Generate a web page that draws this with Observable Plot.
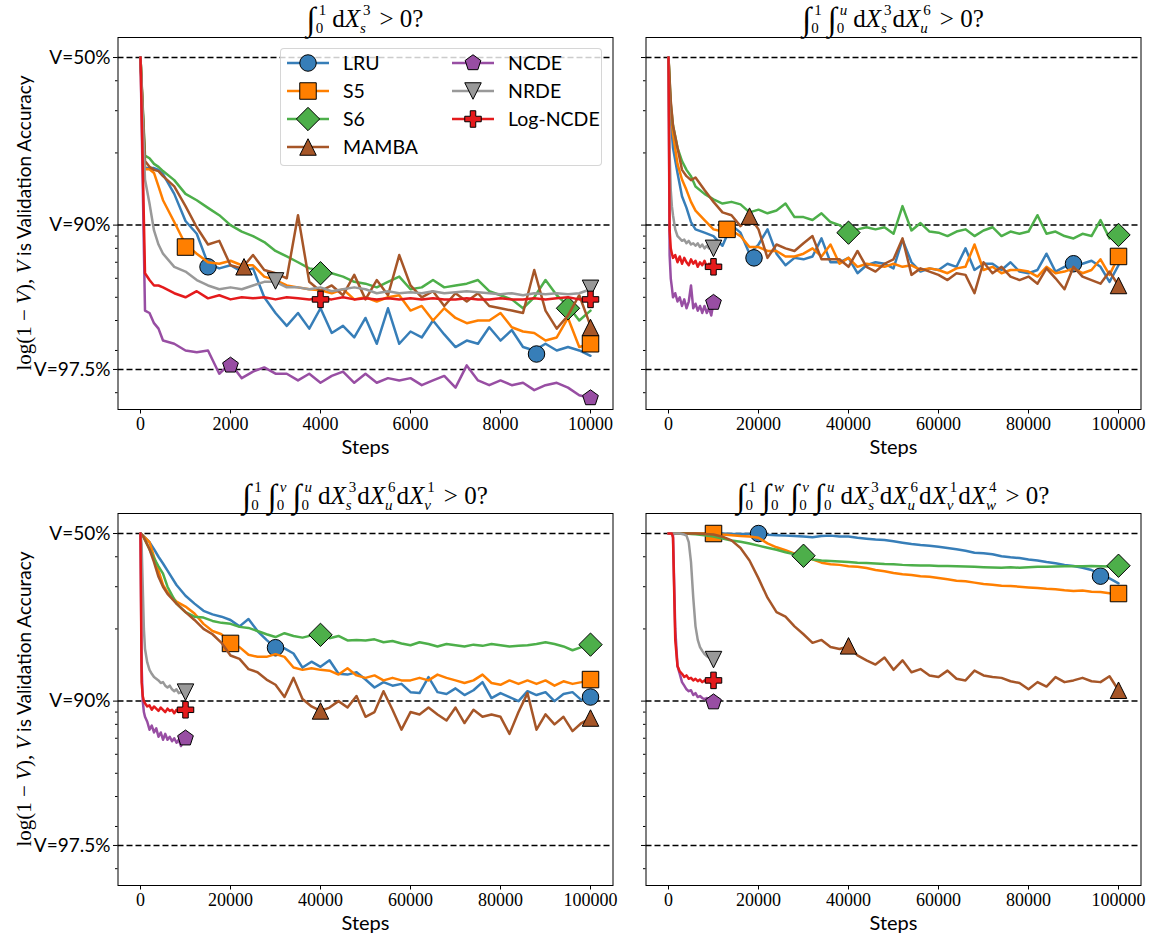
<!DOCTYPE html>
<html><head><meta charset="utf-8">
<script src="https://cdn.jsdelivr.net/npm/d3@7"></script>
<script src="https://cdn.jsdelivr.net/npm/@observablehq/plot@0.6"></script>
<style>
html,body{margin:0;padding:0;background:#fff;}
#fig{position:relative;width:1157px;height:938px;overflow:hidden;background:#fff;}
.panel{position:absolute;}
.title{position:absolute;transform:translate(-50%,-50%);white-space:nowrap;font-family:"Liberation Serif",serif;font-size:25px;display:flex;align-items:center;color:#000;}
.title i{font-style:italic;}
.int{font-family:"Liberation Serif","DejaVu Serif",serif;font-size:33px;line-height:36px;}
.lim{display:inline-flex;flex-direction:column;font-size:15px;line-height:18px;margin-right:6px;}
.lim.dx{margin-right:1px;}
.lim span{display:block;}
.lim span:first-child{margin-left:3px;}
.ylab{position:absolute;transform:translate(-50%,-50%) rotate(-90deg);white-space:nowrap;font-family:Lato,sans-serif;font-size:19px;color:#000;}
.ylab .m{font-family:"Liberation Serif",serif;font-size:21px;}
.legbox{position:absolute;left:280px;top:48px;width:322px;height:118px;box-sizing:border-box;border:1px solid rgba(204,204,204,0.8);border-radius:4px;background:rgba(255,255,255,0.8);}
.legsvg{position:absolute;}
.leglab{position:absolute;transform:translateY(-50%);font-family:Lato,sans-serif;font-size:19.5px;line-height:1;color:#000;white-space:nowrap;}
</style></head>
<body><div id="fig"></div>
<script>
// ---------- categories / styling lists ----------
const SERIES = ["LRU","S5","S6","MAMBA","NCDE","NRDE","Log-NCDE"];
const COLORS = ["#377eb8","#ff7f00","#4daf4a","#a65628","#984ea3","#999999","#e41a1c"];
const SYMBOL_KINDS = ["circle","square","diamond","triUp","pentagon","triDown","plus"];

// ---------- axis ticks ----------
const Y_TICKS = [50, 10, 2.5];               // 1 - V, in percent
const Y_TICK_LABELS = ["V=50%","V=90%","V=97.5%"];
const Y_MINOR = [2,3,4,5,6,7,8,9,20,30,40];
const Y_DOMAIN = [1.702, 60.6];
const X_TICKS_A = [0,2000,4000,6000,8000,10000];
const X_TICKS_B = [0,20000,40000,60000,80000,100000];

// ---------- steps ----------
const STEPS_TL = [0,100,200,300,400,500,750,1000,1250,1500,1750,2000,2250,2500,2750,3000,3250,3500,3750,4000,
  4250,4500,4750,5000,5250,5500,5750,6000,6250,6500,6750,7000,7250,7500,7750,8000,8250,8500,8750,9000,9250,9500,9750,10000];
const STEPS_LONG = [0,500,1000,2000,3000,4000,5000,6000,8000,10000,12000,14000,16000,18000,20000,22000,24000,26000,28000,30000,
  32000,34000,36000,38000,40000,42000,44000,46000,48000,50000,52000,54000,56000,58000,60000,62000,64000,66000,68000,70000,
  72000,74000,76000,78000,80000,82000,84000,86000,88000,90000,92000,94000,96000,98000,100000];
const STEPS_SHORT = [0,250,500,750,1000,1500,2000,2500,3000,3500,4000,4500,5000,5500,6000,6500,7000,7500,8000,8500,9000,9500,10000];

// ---------- panel 1: depth-1 signature (1 - V in %) ----------
const tlLRU = [50,17.3,17.3,17.3,17.0,16.3,13.5,10.4,9.2,6.9, 6.6,6.8,6.4,6.6,5.0,4.3,3.8,4.3,3.7,4.5,
  3.55,3.8,3.4,4.1,3.2,4.5,3.2,3.6,3.4,4.0, 3.5,3.1,3.3,3.2,3.75,3.3,3.65,3.1,3.0,3.2, 3.0,3.1,3.0,2.85];
const tlS5 = [50,17.1,17.1,16.5,14.5,12.7,10.3,8.3,7.6,7.0, 6.9,7.1,6.8,6.8,6.1,5.9,5.6,5.5,5.4,5.35,
  5.2,5.4,4.9,5.0,4.8,5.0,5.1,4.4,4.6,4.0, 4.5,4.1,3.9,4.0,4.0,4.3,3.75,3.6,3.55,3.3, 3.4,4.1,3.1,3.2];
const tlS6 = [50,19.5,19.0,18.0,17.5,16.8,15.4,13.5,12.7,11.8, 11.0,10.0,9.4,9.0,8.5,7.8,7.4,7.0,6.6,6.5,
  6.3,6.1,5.8,5.7,5.5,5.8,6.1,5.4,5.5,5.9, 5.5,5.6,5.7,5.9,5.3,5.1,4.9,4.5,5.0,5.9, 5.1,4.6,4.0,4.4];
const tlMAMBA = [50,18.5,17.5,17.0,16.8,16.0,14.5,12.0,9.8,8.3, 8.6,6.8,6.6,7.5,6.5,6.3,6.0,11.0,5.8,5.3,
  5.6,5.1,6.2,4.9,5.9,5.1,7.5,5.6,5.0,5.3, 4.6,5.2,4.8,5.2,4.6,4.5,4.4,4.3,6.5,4.4, 3.7,4.2,5.1,3.8];
const tlNCDE = [50,4.4,4.3,3.9,3.7,3.3,3.2,3.0,2.95,3.0, 2.4,2.65,2.3,2.45,2.55,2.4,2.4,2.25,2.4,2.2,
  2.35,2.45,2.2,2.4,2.2,2.3,2.25,2.3,2.15,2.25, 2.35,2.1,2.6,2.25,2.15,2.25,2.15,2.2,2.05,2.15, 2.2,2.1,1.95,1.9];
const tlNRDE = [50,15.5,12.3,9.5,8.3,7.6,6.7,6.4,5.9,5.6, 5.4,5.5,5.4,5.6,5.8,5.8,5.5,5.5,5.4,5.5,
  5.3,5.4,5.5,5.4,5.2,5.3,5.2,5.25,5.2,5.3, 5.2,5.25,5.3,5.25,5.2,5.15,5.2,5.1,5.2,5.15, 5.2,5.15,5.2,5.4];
const tlLogNCDE = [50,6.3,5.9,5.6,5.6,5.5,5.2,5.0,5.3,4.95, 5.1,4.9,5.0,4.95,5.0,4.9,5.0,4.95,4.9,4.95,
  4.9,5.0,4.9,4.95,4.9,4.95,4.9,4.95,4.9,4.95, 4.9,4.9,4.95,4.9,4.9,4.95,4.9,4.9,4.95,4.9, 4.95,5.0,4.9,4.95];
const tlMarkers = [["LRU",1500,6.7],["LRU",8800,2.9],["S5",1000,8.1],["S5",10000,3.2],["S6",4000,6.3],["S6",9500,4.5],
  ["MAMBA",2300,6.7],["MAMBA",10000,3.74],["NCDE",2000,2.6],["NCDE",10000,1.9],["NRDE",3000,5.85],["NRDE",10000,5.45],
  ["Log-NCDE",4000,4.9],["Log-NCDE",10000,4.9]];

// ---------- panel 2: depth-2 ----------
const trLRU = [50,28,21,16.5,13.2,11.8,10.3,9.6,9.3,9.0, 8.2,10.0,9.3,7.6,8.3,9.6,7.6,6.8,7.3,7.2,
  7.4,8.8,7.0,7.0,7.3,6.3,6.8,7.0,6.9,6.6, 8.7,7.0,6.4,6.6,6.5,6.9,6.7,8.0,6.5,6.9,
  6.9,6.5,7.0,6.4,6.3,6.5,7.6,6.4,6.7,6.8, 6.9,7.1,6.7,5.8,6.8];
const trS5 = [50,30,24,18,15.5,14.0,12.5,11.5,10.5,9.6, 9.4,9.5,9.0,8.1,8.1,7.8,7.8,7.4,7.4,7.6,
  8.0,7.4,8.3,6.9,7.3,6.7,6.9,6.8,6.7,6.9, 6.7,6.8,6.5,6.6,6.5,6.3,6.6,6.7,8.3,6.5,
  6.7,6.3,6.5,6.5,6.4,6.1,6.7,6.3,6.4,6.6, 6.3,6.5,7.2,6.2,7.4];
const trS6 = [50,32,26,21,18.5,17.0,16.0,14.5,13.5,12.8, 12.3,12.5,12.2,11.3,11.6,11.2,11.5,12.3,10.8,10.8,
  10.5,11.2,10.3,10.0,9.4,9.6,9.8,9.6,9.8,9.2, 12.0,9.5,10.2,9.4,9.3,9.0,9.4,9.6,9.0,9.5,
  9.8,9.0,9.4,9.2,9.4,11.0,9.2,9.4,9.0,8.8, 9.2,9.0,10.5,8.8,9.1];
const trMAMBA = [50,33,26,21,17.0,16.0,15.4,15.8,14.0,12.5, 11.3,11.0,9.9,10.9,9.6,7.3,8.3,8.0,7.8,8.4,
  9.0,7.2,7.2,7.2,6.7,7.8,6.7,6.4,6.9,7.2, 8.8,6.2,6.6,6.4,6.2,5.9,6.3,6.2,5.2,7.0,
  6.3,6.7,6.1,5.9,6.1,5.7,6.6,6.0,5.4,6.7, 6.1,5.9,5.7,6.4,5.6];
const trNCDE = [50,7.5,6.0,5.5,5.0,5.2,4.8,5.0,4.6,4.9,4.5,4.8,5.6,4.5,4.7,4.4,4.6,4.3,4.6,4.3,4.5,4.2,4.75];
const trNRDE = [50,20,14,12,11,9.6,9.0,8.8,8.6,8.7,8.4,8.6,8.3,8.4,8.2,8.4,8.1,8.3,8.0,8.2,8.0,8.1,8.0];
const trLogNCDE = [50,9.5,8.0,7.6,7.3,7.5,7.0,7.4,6.9,7.3,7.0,6.8,7.2,6.9,7.1,6.7,7.0,6.8,7.1,6.7,6.9,6.7,6.7];
const trMarkers = [["LRU",19000,7.3],["LRU",90000,6.9],["S5",13000,9.6],["S5",100000,7.4],["S6",40000,9.3],["S6",100000,9.1],
  ["MAMBA",18000,10.9],["MAMBA",100000,5.6],["NCDE",10000,4.75],["NRDE",10000,8.0],["Log-NCDE",10000,6.7]];

// ---------- panel 3: depth-3 ----------
const blLRU = [50,49,48,46,43,40,37.5,35,30.5,27.5, 25.5,23.8,23.0,22.5,21.8,20.5,22.0,19.6,18.0,16.7,
  16.6,15.8,13.8,14.6,13.9,14.8,13.0,12.9,13.2,12.3, 11.4,12.0,11.6,11.8,10.9,10.8,12.6,10.9,10.7,11.3,
  10.6,11.1,12.0,10.3,10.8,10.4,10.0,11.0,10.6,10.9, 10.0,10.7,10.9,10.1,10.4];
const blS5 = [50,49,48,46,40,35,30.5,28.5,26,24.8, 23.2,21,19.6,19,17.4,16.8,15.6,15.3,15.3,15.7,
  15.3,13.8,13.5,13.7,13.5,13.4,12.9,13.7,12.8,12.5, 12.8,12.2,12.5,12.2,12.2,12.5,12.2,12.9,12.5,12.2,
  11.9,12.2,12.9,11.9,11.7,12.2,11.8,12.2,11.8,12.2, 11.6,12.1,11.8,12.0,12.3];
const blS6 = [50,49,47,43,39.5,36.5,34,30,25.5,23.5, 22.5,22.3,21.6,21.2,21.0,20.4,20.2,19.6,19.0,18.5,
  19.2,18.7,18.4,18.8,18.9,18.3,18.7,17.9,18.0,17.9, 18.1,17.6,17.8,17.4,17.1,17.6,17.3,16.9,17.3,17.1,
  16.9,17.2,17.0,17.3,17.1,16.9,17.0,17.1,17.3,17.6, 17.3,16.9,16.3,16.8,17.2];
const blMAMBA = [50,49,47,43,38,33,30,28,25.5,23.5, 21.8,20,19,17.5,15.5,15.0,13.6,13.2,12.3,11.7,
  10.4,12.5,10.2,9.5,9.1,9.4,10.0,9.4,10.5,8.6, 9.0,11.0,9.2,7.6,9.0,8.8,9.4,8.8,8.3,9.4,
  8.1,9.2,8.6,8.8,8.6,7.3,9.0,10.8,7.6,8.8, 8.0,8.6,7.5,8.1,8.5];
const blNCDE = [50,14,10.0,9.0,8.6,8.2,7.6,7.9,7.4,7.7,7.1,7.4,6.9,7.3,6.9,7.1,6.8,7.0,6.7,6.9,6.5,6.8,6.9];
const blNRDE = [50,45,30,20,16.5,14.5,13.5,13.0,12.6,12.4,12.2,11.9,12.0,11.6,11.4,11.6,11.2,11.0,11.2,10.8,10.9,10.7,10.9];
const blLogNCDE = [50,12,10.5,10.0,9.8,9.5,9.6,9.2,9.5,9.3,9.1,9.4,9.2,9.0,9.3,9.1,9.2,8.9,9.2,9.0,9.1,9.0,9.2];
const blMarkers = [["LRU",30000,16.7],["LRU",100000,10.4],["S5",20000,17.4],["S5",100000,12.3],["S6",40000,18.9],["S6",100000,17.2],
  ["MAMBA",40000,9.1],["MAMBA",100000,8.5],["NCDE",10000,7.0],["NRDE",10000,10.9],["Log-NCDE",10000,9.2]];

// ---------- panel 4: depth-4 ----------
const brLRU = [50,50,50,50,50,50,50,50,50,50, 50,49.8,49.8,49.8,49.8,49.4,49.2,49.0,48.8,48.6,
  48.2,48.8,49.0,48.6,48.6,48.0,47.6,47.2,47.0,46.4, 45.8,45.2,44.8,44.5,44.0,43.5,43.0,42.4,41.6,41.4,
  41.0,40.2,39.8,39.5,39.0,38.6,38.0,37.6,37.0,36.6, 36.0,35.2,34.0,32.5,31.0];
const brS5 = [50,50,50,50,50,50,50,50,50,50, 49.5,49.2,48.8,48.6,48.0,45.5,43.8,42.6,41.2,40.0,
  39.0,37.8,37.2,37.0,36.5,36.3,35.9,35.2,34.8,34.2, 33.8,33.6,33.2,33.0,32.6,32.2,31.8,31.6,31.2,30.8,
  30.6,30.3,30.2,30.0,29.8,29.6,29.4,29.3,29.0,28.8, 28.9,28.6,28.5,28.2,28.0];
const brS6 = [50,50,50,50,50,50,49.8,49.6,49.2,48.6, 47.6,46.8,46.2,45.4,44.5,43.6,42.8,41.8,41.0,40.2,
  39.0,38.6,38.4,38.2,38.0,37.8,37.7,37.5,37.3,37.2, 37.0,36.9,36.8,36.8,36.6,36.6,36.5,36.4,36.3,36.2,
  36.1,36.0,36.2,36.0,36.2,36.3,36.3,36.4,36.5,36.5, 36.5,36.6,36.5,36.4,36.7];
const brMAMBA = [50,50,50,50,50,50,50,50,49.8,49.5, 48.5,46.8,43.5,38.6,32.5,27.0,23.5,22.5,20.5,19.0,
  17.5,18.0,16.8,16.5,16.9,15.5,14.8,14.2,15.2,13.5, 14.8,13.2,13.6,12.8,12.6,13.4,12.4,12.2,13.4,12.8,
  12.6,12.5,12.1,11.9,11.2,12.0,11.5,12.6,12.0,12.2, 12.5,12.1,12.0,12.7,11.1];
const brNCDE = [50,50,50,50,49.5,20,14,13.0,12.0,11.6,11.2,11.0,11.1,10.6,10.8,10.4,10.5,10.3,10.2,10.3,10.1,10.0,9.9];
const brNRDE = [50,50,50,50,50,50,50,50,49.8,49.5,49.0,46,38,27,20.5,18.0,16.8,16.2,15.7,15.4,15.2,15.0,14.9];
const brLogNCDE = [50,50,50,50,48,18,14,13.3,13.0,12.6,12.8,12.4,12.5,12.2,12.4,12.1,12.3,12.0,12.2,12.0,12.1,11.9,12.2];
const brMarkers = [["LRU",20000,50],["LRU",96000,33.2],["S5",10000,50],["S5",100000,28.1],["S6",30000,40.4],["S6",100000,36.7],
  ["MAMBA",40000,17.0],["MAMBA",100000,11.1],["NCDE",10000,9.9],["NRDE",10000,14.9],["Log-NCDE",10000,12.2]];

// ---------- matplotlib-like marker shapes ----------
function makeSymbol(kind) {
  return {draw(ctx, size) {
    const r = Math.sqrt(size / Math.PI);
    if (kind === "circle") { ctx.moveTo(r, 0); ctx.arc(0, 0, r, 0, 2 * Math.PI); }
    else if (kind === "square") { ctx.rect(-r, -r, 2 * r, 2 * r); }
    else if (kind === "diamond") { const a = r * Math.SQRT2; ctx.moveTo(0, -a); ctx.lineTo(a, 0); ctx.lineTo(0, a); ctx.lineTo(-a, 0); ctx.closePath(); }
    else if (kind === "triUp") { ctx.moveTo(0, -r); ctx.lineTo(r, r); ctx.lineTo(-r, r); ctx.closePath(); }
    else if (kind === "triDown") { ctx.moveTo(0, r); ctx.lineTo(r, -r); ctx.lineTo(-r, -r); ctx.closePath(); }
    else if (kind === "pentagon") {
      for (let i = 0; i < 5; i++) { const t = -Math.PI / 2 + i * 2 * Math.PI / 5; const x = r * Math.cos(t), y = r * Math.sin(t); if (i) ctx.lineTo(x, y); else ctx.moveTo(x, y); }
      ctx.closePath();
    } else if (kind === "plus") {
      const b = r / 3;
      const pts = [[-b,-r],[b,-r],[b,-b],[r,-b],[r,b],[b,b],[b,r],[-b,r],[-b,b],[-r,b],[-r,-b],[-b,-b]];
      pts.forEach((p, i) => i ? ctx.lineTo(p[0], p[1]) : ctx.moveTo(p[0], p[1]));
      ctx.closePath();
    }
  }};
}
const SYMS = SYMBOL_KINDS.map(makeSymbol);
const MARKER_R = 8.25;
const LINE_W = 2.5;

function makePanel(cfg) {
  const marks = [Plot.ruleY(Y_TICKS, {stroke: "#000", strokeWidth: 1.5, strokeDasharray: "6,3"})];
  cfg.series.forEach((vals, i) => {
    const steps = cfg.steps[i];
    const rows = steps.map((s, j) => ({step: s, err: vals[j]}));
    marks.push(Plot.line(rows, {x: "step", y: "err", stroke: COLORS[i], strokeWidth: LINE_W}));
    const mk = cfg.markers.filter(m => m[0] === SERIES[i]).map(m => ({step: m[1], err: m[2]}));
    marks.push(Plot.dot(mk, {x: "step", y: "err", symbol: SYMS[i], r: MARKER_R, fill: COLORS[i], stroke: "#000", strokeWidth: 1}));
  });
  marks.push(Plot.frame({stroke: "#000", strokeWidth: 1}));
  marks.push(Plot.axisX(cfg.xTicks, {tickSize: 4.5, tickPadding: 3, fontSize: 18, fontFamily: "Liberation Serif", tickFormat: d => String(d), label: null}));
  marks.push(Plot.axisY(Y_TICKS, {tickSize: 4.5, tickPadding: 3, fontSize: 19, fontFamily: "Lato",
    tickFormat: cfg.yLabels ? (d => Y_TICK_LABELS[Y_TICKS.indexOf(d)]) : (() => ""), label: null}));
  marks.push(Plot.axisY(Y_MINOR, {tickSize: 2.5, tickFormat: () => "", label: null}));
  marks.push(Plot.text(["Steps"], {text: d => d, frameAnchor: "bottom", lineAnchor: "middle", dy: 38, fontSize: 20, fontFamily: "Lato"}));
  const svg = Plot.plot({
    width: cfg.width, height: cfg.height,
    marginLeft: cfg.mL, marginRight: cfg.mR, marginTop: cfg.mT, marginBottom: cfg.mB,
    x: {domain: cfg.xDomain, label: null},
    y: {type: "log", domain: Y_DOMAIN, label: null},
    style: {overflow: "visible", background: "transparent"},
    marks
  });
  svg.classList.add("panel");
  svg.style.left = cfg.left + "px";
  svg.style.top = cfg.top + "px";
  return svg;
}

const fig = document.getElementById("fig");
const longSteps = [STEPS_LONG, STEPS_LONG, STEPS_LONG, STEPS_LONG, STEPS_SHORT, STEPS_SHORT, STEPS_SHORT];
const panels = [
  {left: 0, top: 0, width: 620, height: 465, mL: 117.5, mR: 7.5, mT: 37, mB: 56, xDomain: [-500, 10500], xTicks: X_TICKS_A, yLabels: true,
   steps: Array(7).fill(STEPS_TL), series: [tlLRU, tlS5, tlS6, tlMAMBA, tlNCDE, tlNRDE, tlLogNCDE], markers: tlMarkers},
  {left: 620, top: 0, width: 537, height: 465, mL: 25.5, mR: 16.5, mT: 37, mB: 56, xDomain: [-5000, 105000], xTicks: X_TICKS_B, yLabels: false,
   steps: longSteps, series: [trLRU, trS5, trS6, trMAMBA, trNCDE, trNRDE, trLogNCDE], markers: trMarkers},
  {left: 0, top: 465, width: 620, height: 473, mL: 117.5, mR: 7.5, mT: 48, mB: 53, xDomain: [-5000, 105000], xTicks: X_TICKS_B, yLabels: true,
   steps: longSteps, series: [blLRU, blS5, blS6, blMAMBA, blNCDE, blNRDE, blLogNCDE], markers: blMarkers},
  {left: 620, top: 465, width: 537, height: 473, mL: 25.5, mR: 16.5, mT: 48, mB: 53, xDomain: [-5000, 105000], xTicks: X_TICKS_B, yLabels: false,
   steps: longSteps, series: [brLRU, brS5, brS6, brMAMBA, brNCDE, brNRDE, brLogNCDE], markers: brMarkers}
];
panels.forEach(p => fig.appendChild(makePanel(p)));

// ---------- titles (math as HTML text) ----------
const lim = (sup, sub, cls = "") => `<span class="lim ${cls}"><span>${sup}</span><span>${sub}</span></span>`;
const INT = hi => `<span class="int">∫</span>${lim(hi, "0")}`;
const DX = (p, v) => `<span>d</span><i>X</i>${lim(p, `<i>${v}</i>`, "dx")}`;
const TAIL = `<span style="margin-left:8px">&gt; 0?</span>`;
const titles = [
  {x: 365, y: 19, html: INT("1") + DX("3", "s") + TAIL},
  {x: 893, y: 19, html: INT("1") + INT("<i>u</i>") + DX("3", "s") + DX("6", "u") + TAIL},
  {x: 365, y: 496, html: INT("1") + INT("<i>v</i>") + INT("<i>u</i>") + DX("3", "s") + DX("6", "u") + DX("1", "v") + TAIL},
  {x: 893, y: 496, html: INT("1") + INT("<i>w</i>") + INT("<i>v</i>") + INT("<i>u</i>") + DX("3", "s") + DX("6", "u") + DX("1", "v") + DX("4", "w") + TAIL}
];
titles.forEach(t => {
  const d = document.createElement("div");
  d.className = "title"; d.style.left = t.x + "px"; d.style.top = t.y + "px"; d.innerHTML = t.html;
  fig.appendChild(d);
});

// ---------- y labels ----------
[223, 699].forEach(y => {
  const d = document.createElement("div");
  d.className = "ylab"; d.style.left = "24px"; d.style.top = y + "px";
  d.innerHTML = `<span class="m">log(1 − <i>V</i>), <i>V</i></span> is Validation Accuracy`;
  fig.appendChild(d);
});

// ---------- legend ----------
const box = document.createElement("div"); box.className = "legbox"; fig.appendChild(box);
const rowsY = [63, 91, 119, 147];
SERIES.forEach((name, i) => {
  const col = i < 4 ? 0 : 1, row = i < 4 ? i : i - 4;
  const hx = col ? 451 : 286, tx = col ? 508 : 343, cy = rowsY[row];
  const ns = "http://www.w3.org/2000/svg";
  const s = document.createElementNS(ns, "svg");
  s.setAttribute("width", 44); s.setAttribute("height", 24); s.setAttribute("class", "legsvg");
  s.style.left = hx + "px"; s.style.top = (cy - 12) + "px"; s.style.overflow = "visible";
  const ln = document.createElementNS(ns, "line");
  ln.setAttribute("x1", 1); ln.setAttribute("x2", 43); ln.setAttribute("y1", 12); ln.setAttribute("y2", 12);
  ln.setAttribute("stroke", COLORS[i]); ln.setAttribute("stroke-width", LINE_W);
  s.appendChild(ln);
  const p = d3.path(); SYMS[i].draw(p, Math.PI * MARKER_R * MARKER_R);
  const pe = document.createElementNS(ns, "path");
  pe.setAttribute("d", p.toString()); pe.setAttribute("transform", "translate(22,12)");
  pe.setAttribute("fill", COLORS[i]); pe.setAttribute("stroke", "#000"); pe.setAttribute("stroke-width", 1);
  s.appendChild(pe);
  fig.appendChild(s);
  const lb = document.createElement("div");
  lb.className = "leglab"; lb.style.left = tx + "px"; lb.style.top = cy + "px"; lb.textContent = name;
  fig.appendChild(lb);
});
</script>
</body></html>
